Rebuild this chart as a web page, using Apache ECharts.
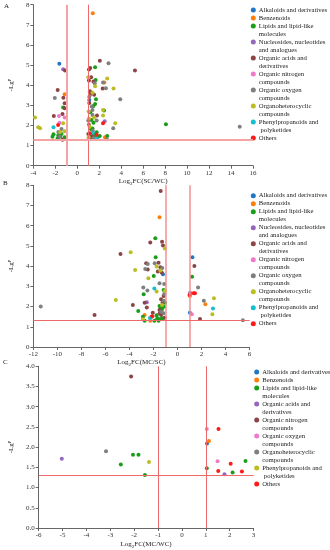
<!DOCTYPE html>
<html><head><meta charset="utf-8">
<script src="https://cdn.jsdelivr.net/npm/echarts@6/dist/echarts.min.js"></script>
<style>html,body{margin:0;padding:0;background:#fff}#c{width:330px;height:550px}</style>
</head><body><div id="c"></div>
<script>
// ---------- categories ----------
const catsAB = ['Alkaloids and derivatives','Benzenoids','Lipids and lipid-like\nmolecules','Nucleosides, nucleotides\nand analogues','Organic acids and\nderivatives','Organic nitrogen\ncompounds','Organic oxygen\ncompounds','Organoheterocyclic\ncompounds','Phenylpropanoids and\n polyketides','Others'];
const catsC = ['Alkaloids and derivatives','Benzenoids','Lipids and lipid-like\nmolecules','Organic acids and\nderivatives','Organic nitrogen\ncompounds','Organic oxygen\ncompounds','Organoheterocyclic\ncompounds','Phenylpropanoids and\n polyketides','Others'];
const colorsAB = ['#1f77c4','#ff7f0e','#1a9e1a','#9467bd','#8c4444','#f07ac8','#7f7f7f','#bcbd22','#17becf','#ff1a1a'];
const colorsC = ['#1f77c4','#ff7f0e','#1a9e1a','#9467bd','#8c4444','#f07ac8','#7f7f7f','#bcbd22','#ff1a1a'];

// ---------- tick settings ----------
const xTicksA = {min:-4, max:16, interval:2};
const xTicksB = {min:-12, max:6, interval:2};
const xTicksC = {min:-6, max:3, interval:1};
const yTicksAB = {min:0, max:8, interval:1};
const yTicksC = {min:0, max:4, interval:0.5};
const thresholdsFC = [-1, 1];
const thresholdP = 1.3;

// ---------- panel A: Log2FC(SC/WC) ----------
const aAlk = [[-1.64,5.06],[1.09,3.27]];
const aBen = [[1.41,7.58],[-1.15,3.55],[2.46,4.13],[2.52,1.41]];
const aLip = [[-1.29,2.89],[-2.17,1.56],[-2.26,1.44],[-1.73,1.51],[-1.44,1.58],[-1.79,1.36],[-1.15,1.41],[-1.55,1.45],
  [1.62,4.89],[1.67,4.26],[1.70,3.30],[1.47,2.97],[1.62,3.07],[2.43,2.74],[1.18,2.65],[1.29,2.27],[1.47,2.14],[1.26,1.81],
  [1.76,1.66],[1.50,1.58],[1.32,1.53],[1.90,1.44],[2.05,1.48],[2.72,1.48],[1.03,1.31],[1.62,1.40],[8.07,2.06],[1.38,1.85]];
const aNuc = [[-1.29,4.79],[2.49,2.21]];
const aAcid = [[-2.14,2.47],[-1.79,3.76],[-1.12,4.73],[-1.27,3.38],[-1.15,3.10],[-1.15,2.85],[-1.35,2.57],[-1.35,1.29],
  [2.05,5.21],[1.06,4.78],[1.18,4.86],[5.25,4.73],[1.26,4.39],[1.06,4.23],[1.47,4.18],[2.31,3.83],[1.15,3.70],[1.24,3.58],
  [1.53,3.53],[1.09,3.12],[1.79,2.50],[1.00,1.58],[1.18,1.36],[1.35,1.45]];
const aNit = [[-1.67,2.47],[-1.15,2.40],[-1.62,2.13]];
const aOxy = [[-2.05,3.37],[-1.44,1.82],[-1.73,1.67],[-1.60,1.45],[2.84,5.09],[1.59,4.10],[2.34,4.13],[2.60,3.85],[3.91,3.30],
  [1.09,3.43],[1.32,2.94],[1.38,2.77],[1.38,2.52],[1.00,2.24],[1.76,2.24],[3.27,1.86],[1.41,1.74],[1.47,1.36],[2.69,1.32],
  [14.79,1.94],[1.06,2.05]];
const aHet = [[-3.85,2.40],[-3.56,1.91],[-3.39,1.86],[-1.29,2.11],[-1.56,1.67],[-1.15,1.71],[1.00,4.39],[1.62,3.95],[2.72,4.33],
  [3.30,3.83],[1.38,3.62],[2.34,2.77],[1.03,2.69],[2.34,2.50],[1.53,2.40],[1.06,2.35],[3.45,2.11],[1.12,1.94],[1.03,1.41]];
const aPhe = [[-2.17,1.91],[1.41,1.64],[1.76,1.36]];
const aOth = [[-1.75,2.02],[2.34,2.11],[1.12,1.61],[1.76,1.54]];

// ---------- panel B: Log2FC(MC/SC) ----------
const bAlk = [[-1.21,3.60],[1.24,4.44],[1.03,1.70]];
const bBen = [[-1.50,6.42],[-2.74,1.58],[-2.27,1.30],[1.03,2.52],[2.32,2.11]];
const bLip = [[-3.27,1.78],[-2.88,1.50],[-2.74,1.30],[-2.82,2.61],[-1.98,3.51],[-1.85,5.38],[-1.82,4.44],[-1.93,1.30],[-1.74,1.57],
  [-1.69,1.42],[-1.58,1.30],[-1.16,2.82],[-1.03,2.19],[-1.50,2.03],[-1.37,1.99],[-1.13,1.99],[-1.42,1.91],[-1.24,1.42],
  [-1.42,1.39],[1.21,3.48],[-1.30,1.85]];
const bNuc = [[-2.56,2.21],[1.05,2.69]];
const bAcid = [[-6.91,1.58],[-4.75,4.60],[-3.72,2.08],[-2.74,2.19],[-2.56,1.96],[-2.61,4.14],[-2.48,3.84],[-2.27,5.17],[-2.16,1.50],
  [-2.06,1.70],[-1.58,4.17],[-1.64,3.73],[-1.43,3.94],[-1.32,3.68],[-1.29,5.21],[-1.21,5.02],[-1.40,7.72],[-1.16,2.52],
  [-1.37,2.36],[-1.25,2.19],[-1.50,1.83],[-1.48,1.67],[-1.37,1.58],[-1.06,1.45],[1.40,4.01],[1.87,1.39]];
const bNit = [[1.19,1.62]];
const bOxy = [[-11.39,2.00],[-2.85,2.94],[-2.51,2.79],[-2.69,3.86],[-2.48,4.11],[-1.90,4.14],[-1.50,3.15],[-1.27,3.91],[-1.11,3.12],
  [-1.11,2.62],[-1.16,2.29],[-1.37,1.75],[-1.16,1.67],[1.71,2.94],[2.19,2.29],[5.44,1.32]];
const bHet = [[-5.14,2.33],[-3.90,4.69],[-3.53,3.81],[-2.88,1.37],[-2.43,3.40],[-1.74,2.74],[-1.74,3.98],[-1.43,3.78],[-1.06,4.87],
  [-1.06,2.77],[-1.29,2.08],[3.03,2.41],[2.90,1.62]];
const bPhe = [[-2.30,1.44],[-1.93,2.90],[2.95,1.90]];
const bOth = [[-2.10,1.52],[1.00,2.57],[1.34,2.66],[1.45,2.66]];

// ---------- panel C: Log2FC(MC/WC) ----------
const cAlk = [[1.05,2.09]];
const cBen = [[1.13,2.15]];
const cLip = [[-2.56,1.57],[-2.05,1.81],[-1.82,1.81],[-1.55,1.31],[1.04,1.48],[2.12,1.37],[2.66,1.66]];
const cAcid = [[-5.03,1.71],[1.78,1.33]];
const cNit = [[-2.13,3.75]];
const cOxy = [[1.04,2.45],[1.49,1.65]];
const cHet = [[-3.18,1.90]];
const cPhe = [[-1.38,1.63]];
const cOth = [[1.53,2.45],[1.52,1.41],[2.04,1.59],[2.51,1.40]];

const dataA = [aAlk,aBen,aLip,aNuc,aAcid,aNit,aOxy,aHet,aPhe,aOth];
const dataB = [bAlk,bBen,bLip,bNuc,bAcid,bNit,bOxy,bHet,bPhe,bOth];
const dataC = [cAlk,cBen,cLip,cAcid,cNit,cOxy,cHet,cPhe,cOth];

// ---------- build ----------
const SERIF = '"Liberation Serif","DejaVu Serif",serif';
const AX = '#666';
const chart = echarts.init(document.getElementById('c'), null, {renderer:'canvas'});

function xAxisCfg(idx, t, nameRich, gap) {
  return {type:'value', gridIndex:idx, min:t.min, max:t.max, interval:t.interval,
    name:nameRich, nameLocation:'middle', nameGap:gap,
    nameTextStyle:{fontFamily:SERIF, fontSize:7, color:'#222',
      rich:{a:{fontFamily:SERIF,fontSize:7,color:'#222'}, s:{fontFamily:SERIF,fontSize:5,color:'#222',padding:[4,0,0,0]}}},
    axisLine:{show:true, onZero:false, lineStyle:{color:AX,width:1}},
    axisTick:{show:true, length:3, lineStyle:{color:AX}},
    axisLabel:{fontFamily:SERIF, fontSize:7, color:'#333', margin:4},
    splitLine:{show:false}};
}
function yAxisCfg(idx, t, fmt) {
  return {type:'value', gridIndex:idx, min:t.min, max:t.max, interval:t.interval,
    name:'-Lgᴾ', nameLocation:'middle', nameGap:14, nameRotate:90,
    nameTextStyle:{fontFamily:SERIF, fontSize:7, color:'#222'},
    axisLine:{show:true, onZero:false, lineStyle:{color:AX,width:1}},
    axisTick:{show:true, length:3, lineStyle:{color:AX}},
    axisLabel:{fontFamily:SERIF, fontSize:7, color:'#333', margin:4, formatter:fmt},
    splitLine:{show:false}};
}
function legendCfg(prefix, cats, colors, left, top) {
  const rich = {t:{fontFamily:SERIF,fontSize:6.7,lineHeight:8,height:8,color:'#222',padding:[0,0,0,3]}, g:{width:5,height:8,lineHeight:8}};
  colors.forEach((c,i)=>{rich['m'+i] = {width:5,height:5,borderRadius:2.5,backgroundColor:c,lineHeight:8};});
  return {orient:'vertical', left:left, top:top, padding:0, itemGap:0, itemWidth:0, itemHeight:0, icon:'none',
    selectedMode:false, data:cats.map(c=>prefix+c),
    formatter:function(name){
      const i = cats.indexOf(name.slice(prefix.length));
      const lines = cats[i].split('\n');
      return '{m'+i+'|}{t|'+lines[0]+'}' + (lines[1] ? '\n{g|}{t|'+lines[1]+'}' : '');
    },
    textStyle:{fontFamily:SERIF, fontSize:6.7, lineHeight:8, padding:0, rich:rich}};
}
function markLineCfg(styles) {
  return {silent:true, symbol:['none','none'], animation:false, label:{show:false},
    data:[{xAxis:thresholdsFC[0], lineStyle:styles[0]},{xAxis:thresholdsFC[1], lineStyle:styles[1]},{yAxis:thresholdP, lineStyle:styles[2]}]};
}
function panelSeries(prefix, idx, cats, colors, data, mlStyles) {
  return cats.map((c,i)=>({
    type:'scatter', name:prefix+c, xAxisIndex:idx, yAxisIndex:idx,
    data:data[i], symbol:'circle', symbolSize:4, itemStyle:{color:colors[i], opacity:1},
    animation:false, z:3,
    markLine: i===0 ? markLineCfg(mlStyles) : undefined
  }));
}

const lightPink = {color:'#f5a3a3', width:2, type:'solid'};
const red1 = {color:'#ee6a6a', width:1, type:'solid'};
const midPink = {color:'#f39090', width:1.5, type:'solid'};

const option = {
  backgroundColor:'#fff',
  animation:false,
  grid:[
    {left:24, top:4.7, width:229, height:161},
    {left:22.3, top:185.3, width:227.3, height:161.7},
    {left:22.7, top:366.3, width:230.9, height:162.4}
  ],
  xAxis:[
    xAxisCfg(0, xTicksA, '{a|Log}{s|2}{a|FC(SC/WC)}', 11),
    xAxisCfg(1, xTicksB, '{a|Log}{s|2}{a|FC(MC/SC)}', 10),
    xAxisCfg(2, xTicksC, '{a|Log}{s|2}{a|FC(MC/WC)}', 12)
  ],
  yAxis:[
    yAxisCfg(0, yTicksAB, v=>String(v)),
    yAxisCfg(1, yTicksAB, v=>String(v)),
    yAxisCfg(2, yTicksC, v=>v.toFixed(1))
  ],
  legend:[
    legendCfg('A:', catsAB, colorsAB, 245.8, 6),
    legendCfg('B:', catsAB, colorsAB, 245.8, 191.7),
    legendCfg('C:', catsC, colorsC, 249.2, 368)
  ],
  graphic:[
    {type:'text', left:4, top:3, style:{text:'A', fontFamily:SERIF, fontSize:7, fill:'#222'}},
    {type:'text', left:3, top:180, style:{text:'B', fontFamily:SERIF, fontSize:7, fill:'#222'}},
    {type:'text', left:3, top:359, style:{text:'C', fontFamily:SERIF, fontSize:7, fill:'#222'}}
  ],
  series:[].concat(
    panelSeries('A:', 0, catsAB, colorsAB, dataA, [lightPink, red1, lightPink]),
    panelSeries('B:', 1, catsAB, colorsAB, dataB, [midPink, midPink, red1]),
    panelSeries('C:', 2, catsC, colorsC, dataC, [red1, red1, red1])
  )
};
chart.setOption(option);
</script>
</body></html>
